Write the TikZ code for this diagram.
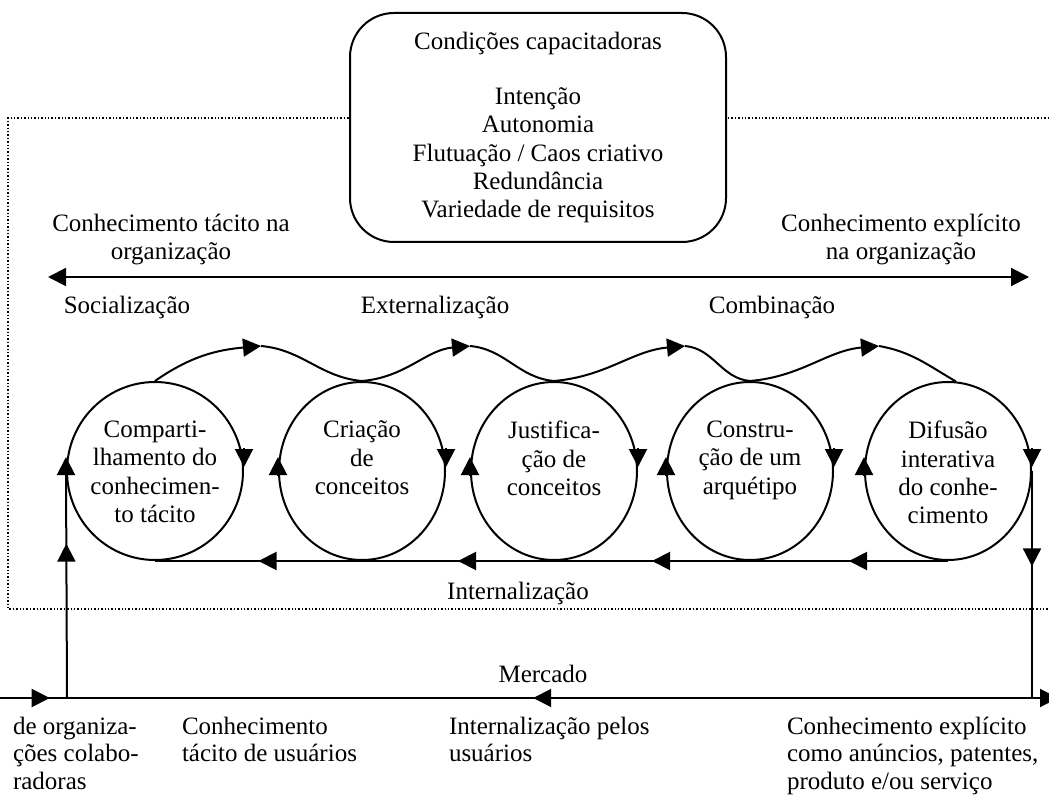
\documentclass[tikz,border=0pt]{standalone}
\usepackage{fontspec}
\setmainfont{Liberation Serif}
\usetikzlibrary{arrows.meta, shapes.geometric, decorations.markings}

\begin{document}
\begin{tikzpicture}[x=0.5pt, y=-0.5pt, line width=1pt,
        font=\fontsize{12.5}{14.2}\selectfont,
        tip/.style={-{Triangle[length=9pt, width=9pt]}},
        midtip/.style={postaction={decorate}, decoration={markings, mark=at position #1 with {\arrow{Triangle[length=9pt, width=9pt]}}}},
        etapa/.style={draw, ellipse, minimum width=83pt, minimum height=89pt, inner sep=0pt},
        etext/.style={align=center, anchor=north, inner sep=0pt},
        rotulo/.style={align=left, anchor=north west, inner sep=0pt, font=\fontsize{12.5}{13.8}\selectfont}]
        \useasboundingbox (0, 0) rectangle (1049, 796);
        \draw[densely dotted, line width=0.7pt] (1049, 118) -- (8, 118) -- (8, 609) -- (1049, 609);
        \node[draw, fill=white, rounded corners=22pt, minimum width=188pt, minimum height=114.5pt, align=center] (cond) at (538, 127.5)
                {Condições capacitadoras\\[13.3pt]Intenção\\Autonomia\\Flutuação / Caos criativo\\Redundância\\Variedade de requisitos};
        \node[etext] (ltac) at (171, 213) {Conhecimento tácito na\\organização};
        \node[etext] (lexp) at (901, 213) {Conhecimento explícito\\na organização};
        \coordinate (tl) at (48, 277);
        \coordinate (tr) at (1029, 277);
        \draw[{Triangle[length=9pt, width=9pt]}-{Triangle[length=9pt, width=9pt]}] (tl) -- (tr);
        \node[anchor=base] (soc) at (127, 314) {Socialização};
        \node[anchor=base] (ext) at (435, 314) {Externalização};
        \node[anchor=base] (comb) at (772, 314) {Combinação};

        \node[etapa, minimum width=88pt] (e1) at (155, 471) {};
        \node[etapa] (e2) at (362, 471) {};
        \node[etapa] (e3) at (554, 471) {};
        \node[etapa] (e4) at (750, 471) {};
        \node[etapa] (e5) at (948, 471) {};
        \node[etext] (t1) at ([yshift=25.5pt]e1.center) {Comparti-\\lhamento do\\conhecimen-\\to tácito};
        \node[etext] (t2) at ([yshift=25.5pt]e2.center) {Criação\\de\\conceitos};
        \node[etext] (t3) at ([yshift=25.5pt]e3.center) {Justifica-\\ção de\\conceitos};
        \node[etext] (t4) at ([yshift=25.5pt]e4.center) {Constru-\\ção de um\\arquétipo};
        \node[etext] (t5) at ([yshift=25.5pt]e5.center) {Difusão\\interativa\\do conhe-\\cimento};

        \coordinate (p1) at (261, 346);
        \coordinate (p2) at (470, 346);
        \coordinate (p3) at (685, 346);
        \coordinate (p4) at (879, 346);
        \draw[tip] (e1.north) to[out=35, in=185] (p1);
        \draw (p1) to[out=-5, in=175] (e2.north);
        \draw[tip] (e2.north) to[out=5, in=185] (p2);
        \draw (p2) to[out=-5, in=175] (e3.north);
        \draw[tip] (e3.north) to[out=5, in=185] (p3);
        \draw (p3) to[out=-5, in=175] (e4.north);
        \draw[tip] (e4.north) to[out=5, in=185] (p4);
        \draw (p4) to[out=-10, in=150] (e5.85);

        \foreach \e in {e1, e2, e3, e4, e5} {
                \draw[tip] ([yshift=11.5pt]\e.east) -- ([yshift=2pt]\e.east);
                \draw[tip] ([yshift=-2.5pt]\e.west) -- ([yshift=7pt]\e.west);
        }
        \draw[midtip=0.5] (e2.south) -- (e1.south);
        \draw[midtip=0.5] (e3.south) -- (e2.south);
        \draw[midtip=0.5] (e4.south) -- (e3.south);
        \draw[midtip=0.5] (e5.south) -- (e4.south);
        \node[anchor=base] (intn) at (518, 599) {Internalização};

        \coordinate (m0) at (0, 698);
        \coordinate (m1) at (1058, 698);
        \coordinate (ml) at (67, 698);
        \coordinate (mr) at (e5.east |- m0);
        \draw[midtip=0.68] (ml) -- (e1.west);
        \draw[midtip=0.42] (e5.east) -- (mr);
        \draw[tip, postaction={decorate}, decoration={markings,
                mark=at position 0.047 with {\arrow{Triangle[length=9pt, width=9pt]}},
                mark=at position 0.504 with {\arrowreversed{Triangle[length=9pt, width=9pt]}}}] (m0) -- (m1);
        \node[anchor=base] (merc) at (543, 682) {Mercado};
        \node[rotulo] (colab) at (12, 716) {de organiza-\\ções colabo-\\radoras};
        \node[rotulo] (usu) at (181, 716) {Conhecimento\\tácito de usuários};
        \node[rotulo] (intu) at (448, 716) {Internalização pelos\\usuários};
        \node[rotulo] (anun) at (786, 716) {Conhecimento explícito\\como anúncios, patentes,\\produto e/ou serviço};
\end{tikzpicture}
\end{document}
